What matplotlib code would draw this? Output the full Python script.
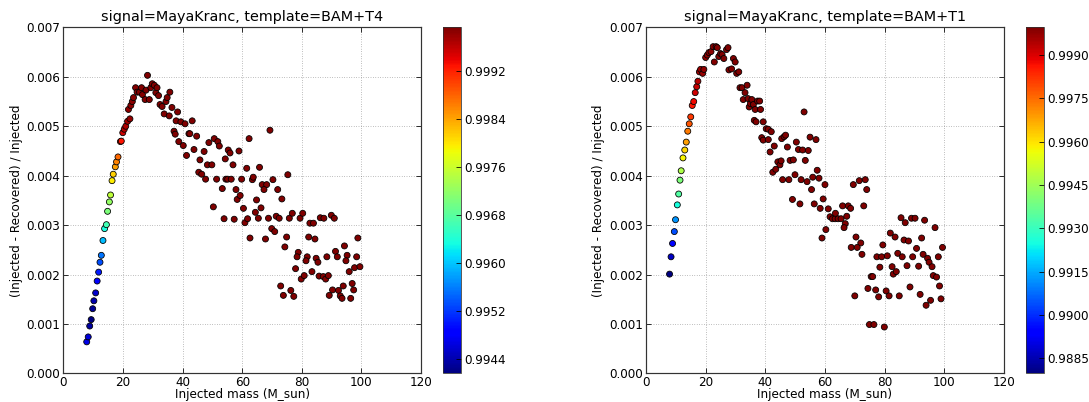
import matplotlib
matplotlib.use('Agg')
import matplotlib.pyplot as plt
from matplotlib.ticker import FormatStrFormatter

# ---- data ----
# left panel: template BAM+T4
mass_t4 = [7.8, 8.3, 8.8, 9.3, 9.8, 10.2, 10.8, 11.3, 11.8, 12.25, 12.7, 13.25, 13.8, 14.4, 14.8,
           15.4, 15.8, 16.3, 16.7, 17.4, 17.8, 18.3, 19.1, 19.4, 19.9, 20.4, 20.9, 21.5, 22.3,
           21.8, 22.6, 23.1, 23.5, 24.2, 24.7, 25.5, 26.2, 26.5, 27.4, 27.7, 28.2, 28.8, 29.3,
           29.8, 30.5, 31.0, 31.4, 31.9, 32.4, 33.1, 33.8, 34.4, 34.8, 35.5, 35.7, 36.4, 37.1,
           37.5, 37.8, 38.3, 38.7, 39.4, 40.2, 40.8, 41.3, 42.1, 42.4, 43.2, 43.8, 44.7, 45.4,
           45.8, 46.4, 47.2, 47.7, 48.3, 48.8, 49.8, 50.6, 51.4, 51.8, 52.3, 53.3, 54.3, 54.5,
           55.1, 55.3, 55.9, 56.3, 56.9, 57.9, 58.3, 58.9, 59.3, 59.8, 60.4,
           50.3, 53.9, 57.3, 60.9, 61.8, 62.6,
           62.3, 69.3, 61.5, 65.8, 75.3, 63.4, 63.7, 66.7, 68.2, 70.3, 67.3, 71.9, 64.8, 73.3, 66.3,
           64.4, 65.4, 68.8, 71.4, 72.4, 75.8, 76.8, 79.4, 80.3, 82.7, 83.9, 86.2, 87.4, 89.9, 90.9,
           67.8, 69.9, 70.9, 74.9, 74.3, 82.3, 84.4, 94.3, 98.8, 78.8, 78.4, 81.8, 81.4, 84.8, 85.4,
           88.4, 91.3, 91.9, 95.2, 94.8, 98.4, 77.9, 83.4, 79.8, 80.8, 85.8, 87.2, 88.0, 88.9, 95.9,
           97.7, 99.5, 72.9, 73.8, 76.3, 77.3, 89.2, 90.3, 92.3, 92.9, 93.5, 93.9, 96.4, 96.9, 97.4]
err_t4 = [0.00064, 0.00074, 0.00096, 0.00109, 0.00131, 0.00147, 0.00163, 0.00187, 0.00205, 0.00225,
          0.00239, 0.00269, 0.00293, 0.00301, 0.00328, 0.00347, 0.00361, 0.00390, 0.00403, 0.00418,
          0.00428, 0.00438, 0.00469, 0.00470, 0.00487, 0.00494, 0.00500, 0.00510, 0.00515,
          0.00534, 0.00542, 0.00550, 0.00558, 0.00578, 0.00569, 0.00569, 0.00578, 0.00564, 0.00554,
          0.00573, 0.00603, 0.00554, 0.00578, 0.00586, 0.00583, 0.00568, 0.00578, 0.00562, 0.00544,
          0.00540, 0.00525, 0.00550, 0.00558, 0.00521, 0.00569, 0.00538, 0.00490, 0.00484, 0.00511,
          0.00529, 0.00469, 0.00509, 0.00461, 0.00505, 0.00441, 0.00485, 0.00485, 0.00511, 0.00453,
          0.00480, 0.00407, 0.00432, 0.00403, 0.00449, 0.00393, 0.00422, 0.00467, 0.00422, 0.00475,
          0.00393, 0.00469, 0.00460, 0.00374, 0.00434, 0.00393, 0.00393, 0.00452, 0.00446, 0.00393,
          0.00422, 0.00372, 0.00352, 0.00450, 0.00360, 0.00393, 0.00334,
          0.00337, 0.00313, 0.00312, 0.00305, 0.00313, 0.00274,
          0.00475, 0.00492, 0.00415, 0.00417, 0.00402, 0.00392, 0.00397, 0.00382, 0.00382, 0.00392,
          0.00372, 0.00372, 0.00351, 0.00353, 0.00335,
          0.00326, 0.00314, 0.00314, 0.00318, 0.00314, 0.00314, 0.00324, 0.00314, 0.00324, 0.00304,
          0.00304, 0.00315, 0.00314, 0.00320, 0.00314,
          0.00272, 0.00293, 0.00287, 0.00276, 0.00256, 0.00276, 0.00272, 0.00258, 0.00274, 0.00245,
          0.00236, 0.00236, 0.00228, 0.00233, 0.00225, 0.00236, 0.00247, 0.00236, 0.00239, 0.00228,
          0.00236, 0.00212, 0.00206, 0.00191, 0.00198, 0.00197, 0.00196, 0.00191, 0.00198, 0.00206,
          0.00214, 0.00216, 0.00177, 0.00158, 0.00168, 0.00156, 0.00158, 0.00169, 0.00168, 0.00157,
          0.00152, 0.00177, 0.00152, 0.00182, 0.00169]
match_t4 = [0.99467, 0.99461, 0.99432, 0.99415, 0.99427, 0.99438, 0.99455, 0.99479, 0.99502, 0.99531,
            0.99554, 0.99594, 0.99635, 0.99664, 0.99704, 0.99721, 0.99750, 0.99796, 0.99814, 0.99843,
            0.99860, 0.99877, 0.99912, 0.99929, 0.99953, 0.99964, 0.99970, 0.99976, 0.99982,
            0.99985, 0.99986, 0.99987, 0.99988, 0.99989, 0.99989, 0.99990, 0.99990, 0.99990, 0.99991,
            0.99991, 0.99993, 0.99991, 0.99991, 0.99991, 0.99991, 0.99991, 0.99991, 0.99991, 0.99991,
            0.99991, 0.99991, 0.99991, 0.99991, 0.99991, 0.99991, 0.99991, 0.99991, 0.99991, 0.99991,
            0.99991, 0.99991, 0.99991, 0.99991, 0.99991, 0.99991, 0.99991, 0.99991, 0.99991, 0.99991,
            0.99991, 0.99991, 0.99991, 0.99991, 0.99991, 0.99991, 0.99991, 0.99991, 0.99991, 0.99991,
            0.99991, 0.99991, 0.99991, 0.99991, 0.99991, 0.99991, 0.99991, 0.99991, 0.99991, 0.99991,
            0.99991, 0.99991, 0.99991, 0.99991, 0.99991, 0.99991, 0.99991,
            0.99991, 0.99991, 0.99991, 0.99991, 0.99991, 0.99991,
            0.99991, 0.99991, 0.99991, 0.99991, 0.99991, 0.99991, 0.99991, 0.99991, 0.99991, 0.99991,
            0.99991, 0.99991, 0.99991, 0.99991, 0.99991,
            0.99991, 0.99991, 0.99991, 0.99991, 0.99991, 0.99991, 0.99991, 0.99991, 0.99991, 0.99991,
            0.99991, 0.99991, 0.99991, 0.99991, 0.99991,
            0.99991, 0.99991, 0.99991, 0.99991, 0.99991, 0.99991, 0.99991, 0.99991, 0.99991, 0.99991,
            0.99991, 0.99991, 0.99991, 0.99991, 0.99991, 0.99991, 0.99991, 0.99991, 0.99991, 0.99991,
            0.99991, 0.99991, 0.99991, 0.99991, 0.99991, 0.99991, 0.99991, 0.99991, 0.99991, 0.99991,
            0.99991, 0.99991, 0.99991, 0.99991, 0.99991, 0.99991, 0.99991, 0.99991, 0.99991, 0.99991,
            0.99991, 0.99991, 0.99991, 0.99991, 0.99991]

# right panel: template BAM+T1
mass_t1 = [7.9, 8.4, 8.9, 9.5, 9.9, 10.5, 10.95, 11.4, 11.8, 12.4, 13.0, 13.5, 14.0, 14.5, 15.0,
           15.5, 16.0, 16.5, 17.0, 17.4, 17.9, 18.3, 19.0, 19.4,
           20.0, 20.55, 21.1, 21.8, 22.5, 22.9, 23.5, 23.9, 24.4, 25.0, 25.5, 26.1, 27.0, 27.5,
           27.8, 28.7, 29.3, 29.9, 30.4, 31.1, 31.5, 32.2, 32.6, 33.2, 33.9, 34.2, 34.6, 35.0,
           35.5, 36.0, 36.6, 37.4, 38.1, 38.4, 36.3, 36.9, 39.3, 40.3, 41.0, 42.0, 38.8, 39.3,
           41.0, 41.6, 43.0, 42.5, 43.5, 44.2, 44.9,
           45.5, 46.3, 46.8, 47.4, 50.4, 51.1, 52.5, 54.4, 55.0, 57.0, 53.0, 45.3, 48.3, 49.4,
           53.4, 57.4, 49.95, 45.8, 47.9, 52.0, 54.0, 55.9, 58.0, 60.0, 55.5, 59.4, 49.1, 51.6,
           56.4, 58.4, 61.1, 65.9, 67.8, 68.6, 73.0, 69.5, 71.5, 73.5, 74.0,
           61.7, 62.5, 63.4, 64.4, 65.4, 63.5, 67.3, 66.8, 66.4, 59.0, 60.3, 70.4, 72.0, 68.8,
           70.8, 72.4, 70.0, 74.4, 75.5, 76.0, 77.0, 78.0, 77.4, 79.0, 78.4, 79.4, 80.9, 80.5,
           81.5, 81.9, 83.5, 82.5, 82.9, 83.9, 84.4, 85.9, 84.9, 85.5, 86.9, 86.5, 88.0, 87.5,
           88.5, 89.0, 90.2, 89.4, 90.7, 91.4, 91.9, 92.4, 92.9, 93.4, 93.9, 94.4, 94.9, 95.4,
           95.9, 96.3, 96.9, 97.4, 98.0, 98.4, 98.9, 99.4, 74.9, 76.4, 79.9]
err_t1 = [0.00201, 0.00236, 0.00263, 0.00287, 0.00311, 0.00341, 0.00363, 0.00391, 0.00410, 0.00436,
          0.00452, 0.00468, 0.00490, 0.00505, 0.00519, 0.00542, 0.00550, 0.00568, 0.00580, 0.00591,
          0.00610, 0.00615, 0.00607, 0.00615,
          0.00639, 0.00644, 0.00649, 0.00651, 0.00661, 0.00630, 0.00661, 0.00659, 0.00641, 0.00647,
          0.00645, 0.00637, 0.00655, 0.00659, 0.00614, 0.00616, 0.00637, 0.00630, 0.00607, 0.00610,
          0.00578, 0.00578, 0.00554, 0.00568, 0.00583, 0.00556, 0.00539, 0.00546, 0.00554, 0.00544,
          0.00534, 0.00551, 0.00551, 0.00534, 0.00512, 0.00509, 0.00509, 0.00495, 0.00494, 0.00489,
          0.00477, 0.00472, 0.00473, 0.00448, 0.00460, 0.00407, 0.00413, 0.00428, 0.00422,
          0.00475, 0.00479, 0.00482, 0.00458, 0.00468, 0.00453, 0.00452, 0.00451, 0.00478, 0.00473,
          0.00529, 0.00430, 0.00431, 0.00432, 0.00431, 0.00411, 0.00402, 0.00392, 0.00392, 0.00392,
          0.00388, 0.00397, 0.00395, 0.00382, 0.00372, 0.00353, 0.00352, 0.00343, 0.00343, 0.00334,
          0.00333, 0.00339, 0.00339, 0.00334, 0.00339, 0.00382, 0.00390, 0.00392, 0.00372,
          0.00317, 0.00313, 0.00313, 0.00313, 0.00313, 0.00324, 0.00318, 0.00303, 0.00295, 0.00274,
          0.00291, 0.00276, 0.00264, 0.00255, 0.00255, 0.00241, 0.00157, 0.00172, 0.00196, 0.00196,
          0.00169, 0.00155, 0.00236, 0.00236, 0.00215, 0.00260, 0.00238, 0.00167, 0.00157, 0.00284,
          0.00276, 0.00216, 0.00201, 0.00206, 0.00243, 0.00236, 0.00157, 0.00315, 0.00305, 0.00270,
          0.00268, 0.00218, 0.00175, 0.00314, 0.00314, 0.00236, 0.00253, 0.00217, 0.00160, 0.00274,
          0.00241, 0.00310, 0.00138, 0.00233, 0.00225, 0.00148, 0.00216, 0.00198, 0.00295, 0.00195,
          0.00236, 0.00177, 0.00151, 0.00255, 0.00099, 0.00099, 0.00094]
match_t1 = [0.98798, 0.98870, 0.98942, 0.99038, 0.99121, 0.99253, 0.99337, 0.99397, 0.99469, 0.99577,
            0.99613, 0.99685, 0.99732, 0.99780, 0.99816, 0.99864, 0.99876, 0.99912, 0.99924, 0.99936,
            0.99960, 0.99965, 0.99970, 0.99975,
            0.99980, 0.99982, 0.99984, 0.99986, 0.99988, 0.99989, 0.99990, 0.99991, 0.99992, 0.99996,
            0.99993, 0.99993, 0.99993, 0.99993, 0.99993, 0.99993, 0.99993, 0.99993, 0.99993, 0.99993,
            0.99993, 0.99993, 0.99993, 0.99993, 0.99993, 0.99993, 0.99993, 0.99993, 0.99993, 0.99993,
            0.99993, 0.99993, 0.99993, 0.99993, 0.99993, 0.99993, 0.99993, 0.99993, 0.99993, 0.99993,
            0.99993, 0.99993, 0.99993, 0.99993, 0.99993, 0.99993, 0.99993, 0.99993, 0.99993,
            0.99993, 0.99993, 0.99993, 0.99993, 0.99993, 0.99993, 0.99993, 0.99993, 0.99993, 0.99993,
            0.99993, 0.99993, 0.99993, 0.99993, 0.99993, 0.99993, 0.99993, 0.99993, 0.99993, 0.99993,
            0.99993, 0.99993, 0.99993, 0.99993, 0.99993, 0.99993, 0.99993, 0.99993, 0.99993, 0.99993,
            0.99993, 0.99993, 0.99993, 0.99993, 0.99993, 0.99993, 0.99993, 0.99993, 0.99993,
            0.99993, 0.99993, 0.99993, 0.99993, 0.99993, 0.99993, 0.99993, 0.99993, 0.99993, 0.99993,
            0.99993, 0.99993, 0.99993, 0.99993, 0.99993, 0.99993, 0.99993, 0.99993, 0.99993, 0.99993,
            0.99993, 0.99993, 0.99993, 0.99993, 0.99993, 0.99993, 0.99993, 0.99993, 0.99993, 0.99993,
            0.99993, 0.99993, 0.99993, 0.99993, 0.99993, 0.99993, 0.99993, 0.99993, 0.99993, 0.99993,
            0.99993, 0.99993, 0.99993, 0.99993, 0.99993, 0.99993, 0.99993, 0.99993, 0.99993, 0.99993,
            0.99993, 0.99993, 0.99993, 0.99993, 0.99993, 0.99993, 0.99993, 0.99993, 0.99993, 0.99993,
            0.99993, 0.99993, 0.99993, 0.99993, 0.99993, 0.99993, 0.99993]

cbar_ticks_t4 = [0.9944, 0.9952, 0.9960, 0.9968, 0.9976, 0.9984, 0.9992]
cbar_ticks_t1 = [0.9885, 0.9900, 0.9915, 0.9930, 0.9945, 0.9960, 0.9975, 0.9990]
x_ticks = [0, 20, 40, 60, 80, 100, 120]
y_ticks = [0.000, 0.001, 0.002, 0.003, 0.004, 0.005, 0.006, 0.007]

plt.rcParams['font.family'] = 'DejaVu Sans'
plt.rcParams['font.size'] = 12


def panel(fig, rect, crect, mass, err, match, cticks, title):
    ax = fig.add_axes(rect)
    ax.set_axisbelow(True)
    sc = ax.scatter(mass, err, c=match, cmap='jet', s=36, edgecolors='k', linewidths=0.8)
    ax.set_xlim(0, 120)
    ax.set_ylim(0, 0.007)
    ax.set_xticks(x_ticks)
    ax.set_yticks(y_ticks)
    ax.yaxis.set_major_formatter(FormatStrFormatter('%.3f'))
    ax.grid(True, color='0.35', linestyle=(0, (1, 3)), linewidth=0.6)
    ax.tick_params(direction='in', top=True, right=True, length=5, labelsize=12, pad=3)
    for sp in ax.spines.values():
        sp.set_linewidth(1.2)
        sp.set_color('0.2')
    ax.set_title(title, fontsize=14.4)
    ax.set_xlabel('Injected mass (M_sun)', fontsize=12, labelpad=-1)
    ax.set_ylabel('(Injected - Recovered) / Injected', fontsize=12)
    cax = fig.add_axes(crect)
    cb = fig.colorbar(sc, cax=cax, ticks=cticks)
    cb.ax.yaxis.set_major_formatter(FormatStrFormatter('%.4f'))
    cb.ax.tick_params(direction='in', length=5, labelsize=12, pad=3)
    cb.outline.set_edgecolor('0.2')
    return ax


fig = plt.figure(figsize=(1089 / 72, 402 / 72), dpi=72)
panel(fig, [0.0583, 0.0709, 0.3283, 0.8610], [0.4071, 0.0709, 0.0163, 0.8610],
      mass_t4, err_t4, match_t4, cbar_ticks_t4, 'signal=MayaKranc, template=BAM+T4')
panel(fig, [0.5932, 0.0709, 0.3287, 0.8610], [0.9421, 0.0709, 0.0165, 0.8610],
      mass_t1, err_t1, match_t1, cbar_ticks_t1, 'signal=MayaKranc, template=BAM+T1')
fig.savefig('out.png', dpi=72, facecolor='white')
